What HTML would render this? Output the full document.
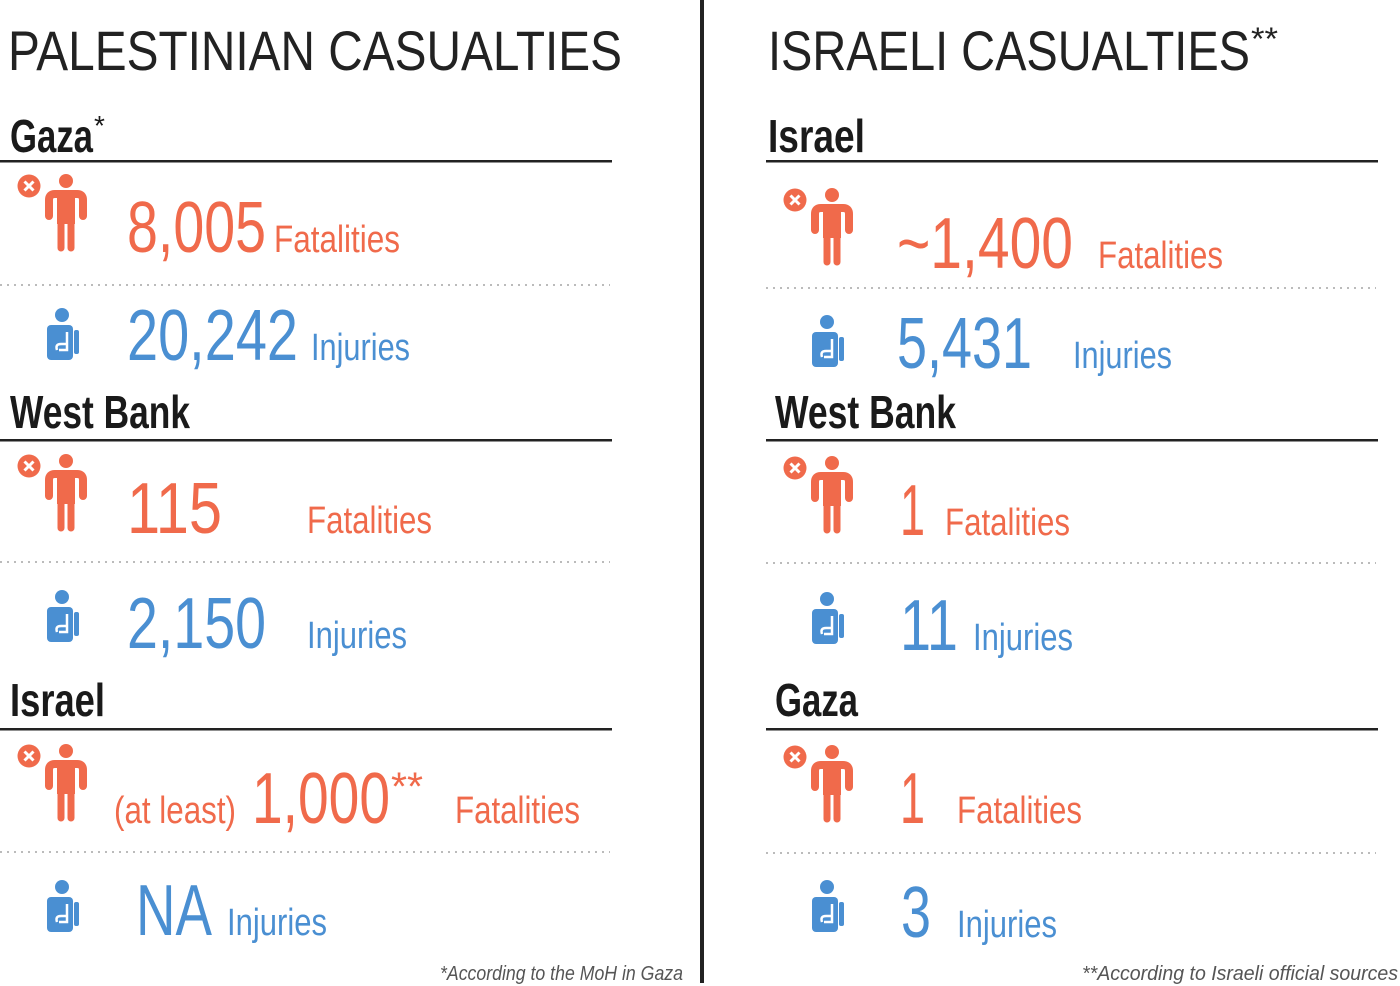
<!DOCTYPE html>
<html><head><meta charset="utf-8"><style>
html,body{margin:0;padding:0;background:#fff;width:1400px;height:986px;overflow:hidden}
text{font-family:"Liberation Sans Narrow","Liberation Sans",sans-serif}
.t{font-size:56px;fill:#222;}
.h{font-size:46px;font-weight:bold;fill:#1a1a1a}
.no{font-size:72px;fill:#f06a4b}
.lo{font-size:38px;fill:#f06a4b}
.nb{font-size:72px;fill:#4a8fd2}
.lb{font-size:38px;fill:#4a8fd2}
.f{font-size:20px;font-style:italic;fill:#555}
</style></head><body>
<svg width="1400" height="986" viewBox="0 0 1400 986" xmlns="http://www.w3.org/2000/svg">
<defs>
<g id="fat">
<circle cx="0" cy="0" r="11.5" fill="#f06a4b"/>
<path d="M-4.5,-4.5L4.5,4.5M4.5,-4.5L-4.5,4.5" stroke="#fff" stroke-width="3"/>
<circle cx="37" cy="-5" r="7" fill="#f06a4b"/>
<path d="M20,30 L20,14 Q20,8 26,8 L48,8 Q54,8 54,14 L54,30" fill="none" stroke="#f06a4b" stroke-width="8" stroke-linecap="round" stroke-linejoin="round"/>
<rect x="28" y="8" width="18" height="30" fill="#f06a4b"/>
<path d="M32,36 L32,62 M42,36 L42,62" stroke="#f06a4b" stroke-width="7" stroke-linecap="round"/>
</g>
<g id="inj">
<circle cx="15" cy="7" r="7" fill="#4a8fd2"/>
<rect x="0" y="17" width="26" height="35" rx="4" fill="#4a8fd2"/>
<rect x="27" y="22" width="5" height="24" rx="2" fill="#4a8fd2"/>
<path d="M10,42 Q8,36 14,36 L20,36 M20,24 L20,42 L12,42" fill="none" stroke="#fff" stroke-width="2.5"/>
</g>
</defs>
<!-- divider -->
<rect x="700" y="0" width="4" height="983" fill="#222"/>
<!-- LEFT -->
<text class="t" x="8" y="70" textLength="614" lengthAdjust="spacingAndGlyphs">PALESTINIAN CASUALTIES</text>
<text class="h" x="10" y="152" textLength="83" lengthAdjust="spacingAndGlyphs">Gaza</text>
<text x="94" y="135" font-size="28" fill="#1a1a1a">*</text>
<rect x="0" y="160" width="612" height="2.5" fill="#222"/>
<use href="#fat" x="29" y="186"/>
<text class="no" x="127" y="252" textLength="139" lengthAdjust="spacingAndGlyphs">8,005</text>
<text class="lo" x="274" y="252" textLength="126" lengthAdjust="spacingAndGlyphs">Fatalities</text>
<line x1="0" y1="285" x2="610" y2="285" stroke="#bbb" stroke-width="2" stroke-dasharray="2 5"/>
<use href="#inj" x="47" y="308"/>
<text class="nb" x="127" y="360" textLength="171" lengthAdjust="spacingAndGlyphs">20,242</text>
<text class="lb" x="311" y="360" textLength="99" lengthAdjust="spacingAndGlyphs">Injuries</text>

<text class="h" x="10" y="428" textLength="180" lengthAdjust="spacingAndGlyphs">West Bank</text>
<rect x="0" y="439" width="612" height="2.5" fill="#222"/>
<use href="#fat" x="29" y="466"/>
<text class="no" x="127" y="533" textLength="95" lengthAdjust="spacingAndGlyphs">115</text>
<text class="lo" x="307" y="533" textLength="125" lengthAdjust="spacingAndGlyphs">Fatalities</text>
<line x1="0" y1="562" x2="610" y2="562" stroke="#bbb" stroke-width="2" stroke-dasharray="2 5"/>
<use href="#inj" x="47" y="590"/>
<text class="nb" x="127" y="648" textLength="139" lengthAdjust="spacingAndGlyphs">2,150</text>
<text class="lb" x="307" y="648" textLength="100" lengthAdjust="spacingAndGlyphs">Injuries</text>

<text class="h" x="10" y="716" textLength="95" lengthAdjust="spacingAndGlyphs">Israel</text>
<rect x="0" y="728" width="612" height="2.5" fill="#222"/>
<use href="#fat" x="29" y="756"/>
<text class="lo" x="114" y="823" textLength="122" lengthAdjust="spacingAndGlyphs">(at least)</text>
<text class="no" x="252" y="823" textLength="138" lengthAdjust="spacingAndGlyphs">1,000</text>
<text x="391" y="800" font-size="40" fill="#f06a4b" textLength="32" lengthAdjust="spacingAndGlyphs">**</text>
<text class="lo" x="455" y="823" textLength="125" lengthAdjust="spacingAndGlyphs">Fatalities</text>
<line x1="0" y1="852" x2="610" y2="852" stroke="#bbb" stroke-width="2" stroke-dasharray="2 5"/>
<use href="#inj" x="47" y="880"/>
<text class="nb" x="136" y="935" textLength="76" lengthAdjust="spacingAndGlyphs">NA</text>
<text class="lb" x="227" y="935" textLength="100" lengthAdjust="spacingAndGlyphs">Injuries</text>
<text class="f" x="440" y="980" textLength="243" lengthAdjust="spacingAndGlyphs">*According to the MoH in Gaza</text>

<!-- RIGHT -->
<text class="t" x="768" y="70" textLength="482" lengthAdjust="spacingAndGlyphs">ISRAELI CASUALTIES</text>
<text x="1251" y="50" font-size="32" fill="#222" textLength="27" lengthAdjust="spacingAndGlyphs">**</text>
<text class="h" x="768" y="152" textLength="97" lengthAdjust="spacingAndGlyphs">Israel</text>
<rect x="766" y="160" width="612" height="2.5" fill="#222"/>
<use href="#fat" x="795" y="200"/>
<text class="no" x="897" y="268" textLength="176" lengthAdjust="spacingAndGlyphs">~1,400</text>
<text class="lo" x="1098" y="268" textLength="125" lengthAdjust="spacingAndGlyphs">Fatalities</text>
<line x1="766" y1="288" x2="1376" y2="288" stroke="#bbb" stroke-width="2" stroke-dasharray="2 5"/>
<use href="#inj" x="812" y="315"/>
<text class="nb" x="897" y="368" textLength="135" lengthAdjust="spacingAndGlyphs">5,431</text>
<text class="lb" x="1073" y="368" textLength="99" lengthAdjust="spacingAndGlyphs">Injuries</text>

<text class="h" x="775" y="428" textLength="181" lengthAdjust="spacingAndGlyphs">West Bank</text>
<rect x="766" y="439" width="612" height="2.5" fill="#222"/>
<use href="#fat" x="795" y="468"/>
<text class="no" x="900" y="535" textLength="25" lengthAdjust="spacingAndGlyphs">1</text>
<text class="lo" x="945" y="535" textLength="125" lengthAdjust="spacingAndGlyphs">Fatalities</text>
<line x1="766" y1="563" x2="1376" y2="563" stroke="#bbb" stroke-width="2" stroke-dasharray="2 5"/>
<use href="#inj" x="812" y="592"/>
<text class="nb" x="900" y="650" textLength="58" lengthAdjust="spacingAndGlyphs">11</text>
<text class="lb" x="973" y="650" textLength="100" lengthAdjust="spacingAndGlyphs">Injuries</text>

<text class="h" x="775" y="716" textLength="83" lengthAdjust="spacingAndGlyphs">Gaza</text>
<rect x="766" y="728" width="612" height="2.5" fill="#222"/>
<use href="#fat" x="795" y="757"/>
<text class="no" x="900" y="823" textLength="25" lengthAdjust="spacingAndGlyphs">1</text>
<text class="lo" x="957" y="823" textLength="125" lengthAdjust="spacingAndGlyphs">Fatalities</text>
<line x1="766" y1="853" x2="1376" y2="853" stroke="#bbb" stroke-width="2" stroke-dasharray="2 5"/>
<use href="#inj" x="812" y="880"/>
<text class="nb" x="901" y="937" textLength="30" lengthAdjust="spacingAndGlyphs">3</text>
<text class="lb" x="957" y="937" textLength="100" lengthAdjust="spacingAndGlyphs">Injuries</text>
<text class="f" x="1082" y="980" textLength="316" lengthAdjust="spacingAndGlyphs">**According to Israeli official sources</text>
</svg>
</body></html>
